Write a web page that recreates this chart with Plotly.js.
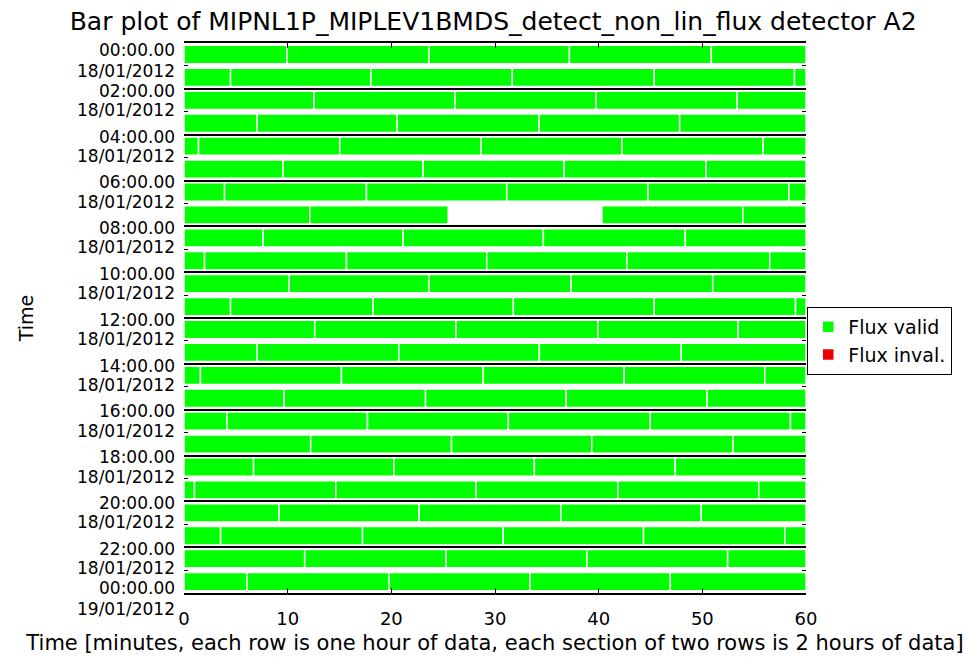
<!DOCTYPE html>
<html>
<head>
<meta charset="utf-8">
<script src="https://cdn.plot.ly/plotly-3.0.1.min.js"></script>
<style>html,body{margin:0;padding:0;background:#fff;}#chart{width:966px;height:659px;}</style>
</head>
<body>
<div id="chart"></div>
<script>
// Break positions (minutes) between consecutive data blocks, one list per hour row (00h .. 23h)
const rowBreaks = [
  [9.93, 23.62, 37.18, 50.87],
  [4.49, 18.02, 31.67, 45.36, 58.89],
  [12.54, 26.14, 39.73, 53.35],
  [7.04, 20.56, 34.25, 47.81],
  [1.40, 15.02, 28.65, 42.24, 55.86],
  [9.55, 23.07, 36.67, 50.36],
  [3.91, 17.60, 31.13, 44.75, 58.34],
  [12.13, 25.49, 40.31, 53.90],
  [7.62, 21.14, 34.67, 48.36],
  [1.98, 15.67, 29.20, 42.72, 56.50],
  [10.13, 23.62, 37.34, 51.00],
  [4.49, 18.24, 31.77, 45.36, 58.99],
  [12.61, 26.23, 39.92, 53.45],
  [7.04, 20.72, 34.28, 47.97],
  [1.59, 15.19, 28.87, 42.46, 56.02],
  [9.65, 23.30, 36.86, 50.45],
  [4.14, 17.70, 31.29, 44.98, 58.50],
  [12.22, 25.81, 39.34, 52.96],
  [6.71, 20.24, 33.80, 47.39],
  [1.01, 14.64, 28.16, 41.85, 55.44],
  [9.16, 22.69, 36.35, 49.90],
  [3.53, 17.22, 30.80, 44.33, 57.95],
  [11.64, 25.27, 38.86, 52.44],
  [6.07, 19.76, 33.38, 46.91]
];
// Missing data (no flux at all)
const gapRow = [7];
const gapStart = [25.49];
const gapEnd = [40.31];
// Invalid-flux blocks (none in this plot)
const invalidRow = [];
const invalidStart = [];
const invalidEnd = [];

const xTickVals = [0, 10, 20, 30, 40, 50, 60];
const yTickHours = [0, 2, 4, 6, 8, 10, 12, 14, 16, 18, 20, 22, 24];
const yMinorHours = [1, 3, 5, 7, 9, 11, 13, 15, 17, 19, 21, 23];
const timeLabels = ["00:00.00","02:00.00","04:00.00","06:00.00","08:00.00","10:00.00","12:00.00","14:00.00","16:00.00","18:00.00","20:00.00","22:00.00","00:00.00"];
const dateLabels = ["18/01/2012","18/01/2012","18/01/2012","18/01/2012","18/01/2012","18/01/2012","18/01/2012","18/01/2012","18/01/2012","18/01/2012","18/01/2012","18/01/2012","19/01/2012"];

const NHOURS = 24;

// Build valid segments
const vy = [], vb = [], vx = [];
rowBreaks.forEach((br, r) => {
  const pts = [0].concat(br, [60]);
  for (let i = 0; i < pts.length - 1; i++) {
    const s = pts[i], e = pts[i + 1];
    let inGap = false;
    gapRow.forEach((gr, k) => { if (gr === r && s >= gapStart[k] && e <= gapEnd[k]) inGap = true; });
    if (!inGap) { vy.push(r + 0.5); vb.push(s); vx.push(e - s); }
  }
});

// Invalid segments (a null placeholder keeps the legend entry when there are none)
let iy = invalidRow.map(r => r + 0.5), ib = invalidStart.slice(), ix = invalidEnd.map((e, i) => e - invalidStart[i]);
if (iy.length === 0) { iy = [null]; ib = [null]; ix = [null]; }

const FONT = "DejaVu Sans";
const traces = [
  {
    type: 'bar', orientation: 'h', name: 'Flux valid',
    y: vy, base: vb, x: vx, width: 0.8,
    marker: {color: '#00ff00', line: {color: '#ffffff', width: 1.5}},
    hoverinfo: 'skip'
  },
  {
    type: 'bar', orientation: 'h', name: 'Flux inval.',
    y: iy, base: ib, x: ix, width: 0.8,
    marker: {color: '#ee0000', line: {color: '#ffffff', width: 1.5}},
    hoverinfo: 'skip'
  }
];

// y-axis tick labels as annotations (two lines per boundary); hour position -> paper coordinate
const LBL = 17;
const toPaper = h => 1 - h / NHOURS;
const annotations = [];
yTickHours.forEach((h, i) => {
  let ty = h + 0.08, dy = h + 0.92;
  if (i === 0) { ty = 0.30; dy = 1.2; }
  if (i === yTickHours.length - 1) { ty = h - 0.22; dy = h + 0.71; }
  annotations.push({xref: 'paper', yref: 'paper', x: 0, y: toPaper(ty), xanchor: 'right', yanchor: 'middle', xshift: -7,
    text: timeLabels[i], showarrow: false, font: {family: FONT, size: LBL, color: '#000'}});
  annotations.push({xref: 'paper', yref: 'paper', x: 0, y: toPaper(dy), xanchor: 'right', yanchor: 'middle', xshift: -7,
    text: dateLabels[i], showarrow: false, font: {family: FONT, size: LBL, color: '#000'}});
});

const layout = {
  width: 966, height: 659,
  margin: {l: 184, r: 160, t: 43, b: 66, pad: 0},
  paper_bgcolor: '#fff', plot_bgcolor: '#fff',
  font: {family: FONT, size: 19, color: '#000'},
  title: {text: 'Bar plot of MIPNL1P_MIPLEV1BMDS_detect_non_lin_flux detector A2',
    x: 0.497, xanchor: 'center', xref: 'paper', yref: 'container', y: 0.967, yanchor: 'middle',
    font: {family: FONT, size: 25, color: '#000'}},
  barmode: 'overlay',
  showlegend: true,
  legend: {x: 1.002, y: 0.52, xanchor: 'left', yanchor: 'top', bgcolor: '#fff',
    bordercolor: '#000', borderwidth: 1, font: {family: FONT, size: 19, color: '#000'},
    tracegroupgap: 0, traceorder: 'normal'},
  xaxis: {
    range: [0, 60], tickmode: 'array', tickvals: xTickVals, ticktext: xTickVals.map(String),
    ticks: 'inside', ticklen: 5, tickcolor: '#000', tickwidth: 1,
    showline: true, linecolor: '#000', linewidth: 2, mirror: 'ticks',
    showgrid: false, zeroline: false, ticklabelstandoff: 8,
    tickfont: {family: FONT, size: 18, color: '#000'},
    title: {text: 'Time [minutes, each row is one hour of data, each section of two rows is 2 hours of data]',
      font: {family: FONT, size: 21, color: '#000'}, standoff: 8}
  },
  yaxis: {
    range: [NHOURS, 0], tickmode: 'array', tickvals: yTickHours, showticklabels: false,
    ticks: 'inside', ticklen: 4, tickcolor: '#000', mirror: 'ticks', showline: false,
    showgrid: true, gridcolor: '#000', gridwidth: 2, zeroline: false,
    minor: {tickmode: 'array', tickvals: yMinorHours, ticks: 'inside', ticklen: 4, tickcolor: '#000', showgrid: false},
    title: {text: 'Time', font: {family: FONT, size: 19, color: '#000'}, standoff: 144}
  },
  annotations: annotations
};

Plotly.newPlot('chart', traces, layout, {displayModeBar: false, staticPlot: true});
</script>
</body>
</html>
